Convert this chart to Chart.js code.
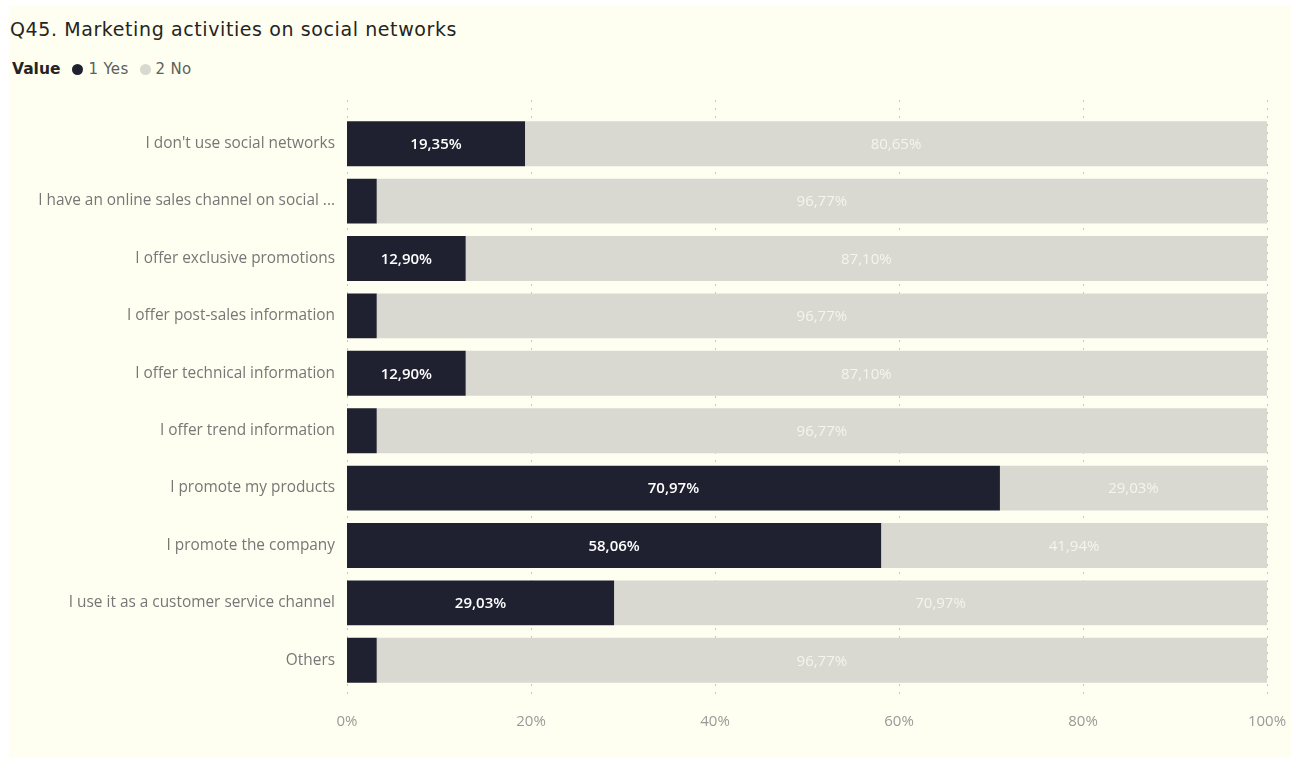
<!DOCTYPE html>
<html>
<head>
<meta charset="utf-8">
<script src="https://cdn.jsdelivr.net/npm/chart.js@4.4.1/dist/chart.umd.min.js"></script>
<style>
  html, body { margin: 0; padding: 0; background: #ffffff; }
  body { width: 1296px; height: 758px; position: relative; overflow: hidden; }
  #card { position: absolute; left: 9px; top: 5px; width: 1282px; height: 752px; background: #fefff0; }
  #title { position: absolute; left: 10px; top: 18px; font-family: "DejaVu Sans", sans-serif; font-size: 19px; letter-spacing: 0.6px; color: #252423; white-space: nowrap; }
  #legend { position: absolute; left: 12px; top: 60px; font-family: "DejaVu Sans", sans-serif; font-size: 15px; color: #605e5c; white-space: nowrap; display: flex; align-items: center; height: 18px; }
  #legend b { color: #252423; font-weight: 700; margin-right: 12px; font-size: 15.5px; }
  #legend .dot { display: inline-block; width: 11px; height: 11px; border-radius: 50%; margin-right: 5px; }
  #legend .item { display: inline-flex; align-items: center; margin-right: 11px; letter-spacing: 0.3px; }
  #wrap { position: absolute; left: 0; top: 0; width: 1296px; height: 758px; }
</style>
</head>
<body>
<div id="card"></div>
<div id="title">Q45. Marketing activities on social networks</div>
<div id="legend"><b>Value</b>
  <span class="item"><span class="dot" style="background:#1f2130"></span>1 Yes</span>
  <span class="item"><span class="dot" style="background:#d9d9d2"></span>2 No</span>
</div>
<div id="wrap"><canvas id="chart" width="1296" height="758"></canvas></div>
<script>
// Survey answers, share of respondents (%)
const categories = [
  "I don't use social networks",
  "I have an online sales channel on social ...",
  "I offer exclusive promotions",
  "I offer post-sales information",
  "I offer technical information",
  "I offer trend information",
  "I promote my products",
  "I promote the company",
  "I use it as a customer service channel",
  "Others"
];
const yesValues = [19.35, 3.23, 12.90, 3.23, 12.90, 3.23, 70.97, 58.06, 29.03, 3.23];
const noValues  = [80.65, 96.77, 87.10, 96.77, 87.10, 96.77, 29.03, 41.94, 70.97, 96.77];
const seriesNames = ["1 Yes", "2 No"];
const xTicks = [0, 20, 40, 60, 80, 100];

const YES_COLOR = "#1f2130";
const NO_COLOR = "#d9d9d2";

function fmtPct(v) {
  return v.toFixed(2).replace(".", ",") + "%";
}

// Dotted vertical grid lines that run a little above and below the plot area
const dottedGrid = {
  id: "dottedGrid",
  beforeDatasetsDraw(chart) {
    const { ctx, chartArea, scales } = chart;
    const x = scales.x;
    ctx.save();
    ctx.strokeStyle = "#c8c8c0";
    ctx.lineWidth = 1;
    ctx.setLineDash([2, 6]);
    xTicks.forEach(t => {
      const px = Math.round(x.getPixelForValue(t)) + 0.5;
      ctx.beginPath();
      ctx.moveTo(px, chartArea.top - 15);
      ctx.lineTo(px, chartArea.bottom + 7);
      ctx.stroke();
    });
    ctx.restore();
  }
};

// Value labels centred in each segment, hidden when the segment is too narrow
const segmentLabels = {
  id: "segmentLabels",
  afterDatasetsDraw(chart) {
    const { ctx } = chart;
    ctx.save();
    ctx.textAlign = "center";
    ctx.textBaseline = "middle";
    chart.data.datasets.forEach((ds, di) => {
      const meta = chart.getDatasetMeta(di);
      meta.data.forEach((bar, i) => {
        const v = ds.data[i];
        const text = fmtPct(v);
        ctx.font = (di === 0 ? "600 " : "400 ") + "15px 'Open Sans', sans-serif";
        const w = Math.abs(bar.x - bar.base);
        if (ctx.measureText(text).width + 8 > w) return;
        ctx.fillStyle = di === 0 ? "#ffffff" : "#f4f4f0";
        ctx.fillText(text, (bar.x + bar.base) / 2, bar.y + 1);
      });
    });
    ctx.restore();
  }
};

new Chart(document.getElementById("chart"), {
  type: "bar",
  data: {
    labels: categories,
    datasets: [
      { label: seriesNames[0], data: yesValues, backgroundColor: YES_COLOR, borderWidth: 0 },
      { label: seriesNames[1], data: noValues, backgroundColor: NO_COLOR, borderWidth: 0 }
    ]
  },
  options: {
    indexAxis: "y",
    responsive: false,
    animation: false,
    devicePixelRatio: 1,
    categoryPercentage: 0.783,
    barPercentage: 1,
    layout: { padding: { top: 115, left: 0, right: 29, bottom: 0 } },
    plugins: {
      legend: { display: false },
      tooltip: { enabled: false }
    },
    scales: {
      x: {
        stacked: true,
        min: 0,
        max: 100,
        afterBuildTicks(scale) { scale.ticks = xTicks.map(v => ({ value: v })); },
        grid: { display: false, drawTicks: false },
        border: { display: false },
        ticks: {
          padding: 24,
          color: "#9a9a9a",
          font: { family: "Open Sans", size: 15 },
          callback: v => v + "%"
        },
        afterFit(scale) {
          scale.height = 69;
          scale.paddingLeft = 0;
          scale.paddingRight = 0;
        }
      },
      y: {
        stacked: true,
        grid: { display: false, drawTicks: false },
        border: { display: false },
        ticks: {
          padding: 12,
          color: "#777777",
          font: { family: "Open Sans", size: 15.4 }
        },
        afterFit(scale) { scale.width = 347; }
      }
    }
  },
  plugins: [dottedGrid, segmentLabels]
});
</script>
</body>
</html>
